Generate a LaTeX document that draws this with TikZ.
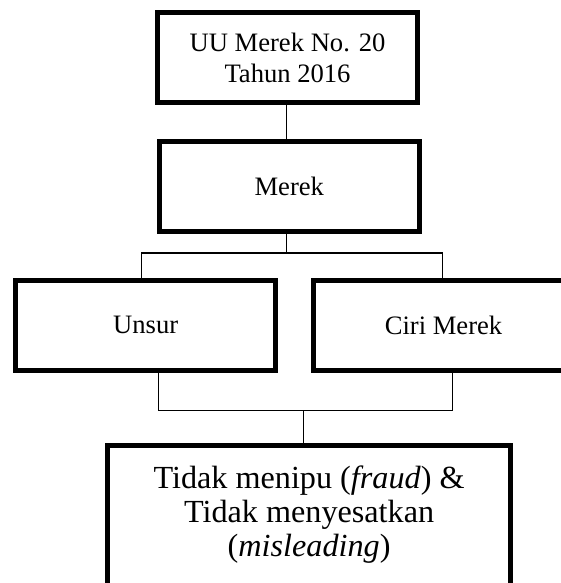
\documentclass[tikz,border=0pt]{standalone}
\usepackage{fontspec}
\setmainfont{Liberation Serif}
\begin{document}
\begin{tikzpicture}[x=1pt,y=-1pt,
  box/.style={draw, line width=5pt, minimum width=260pt, minimum height=90pt,
    inner sep=0pt, align=center, font=\fontsize{26.6}{31}\selectfont},
  bigbox/.style={box, minimum width=403.6pt, minimum height=146pt,
    text depth=15pt, font=\fontsize{32.2}{34}\selectfont},
  conn/.style={line width=1.5pt}]
\clip (0,0) rectangle (561,583);
\node[box] (top) at (287.5,57.5) {UU Merek No. 20\\Tahun 2016};
\node[box, minimum width=259.5pt] (merek) at (289.25,186.5) {Merek};
\node[box, minimum width=259.7pt] (unsur) at (145.7,325.2) {Unsur};
\node[box] (ciri) at (443.5,325.2) {Ciri Merek};
\node[bigbox] (result) at (309.1,518.2) {Tidak menipu (\textit{fraud}) \&\\Tidak menyesatkan\\(\textit{misleading})};
\coordinate (b1) at (286.6,253);
\coordinate (bl) at (141.7,253);
\coordinate (br) at (442.3,253);
\coordinate (cl) at (158.3,410.7);
\coordinate (cr) at (452.3,410.7);
\coordinate (cm) at (303.3,410.7);
\draw[conn] (top.south -| b1) -- (merek.north -| b1);
\draw[conn] (merek.south -| b1) -- (b1);
\draw[conn] (bl |- unsur.north) -- (bl) -- (br) -- (br |- ciri.north);
\draw[conn] (cl |- unsur.south) -- (cl) -- (cr) -- (cr |- ciri.south);
\draw[conn] (cm) -- (cm |- result.north);
\end{tikzpicture}
\end{document}
